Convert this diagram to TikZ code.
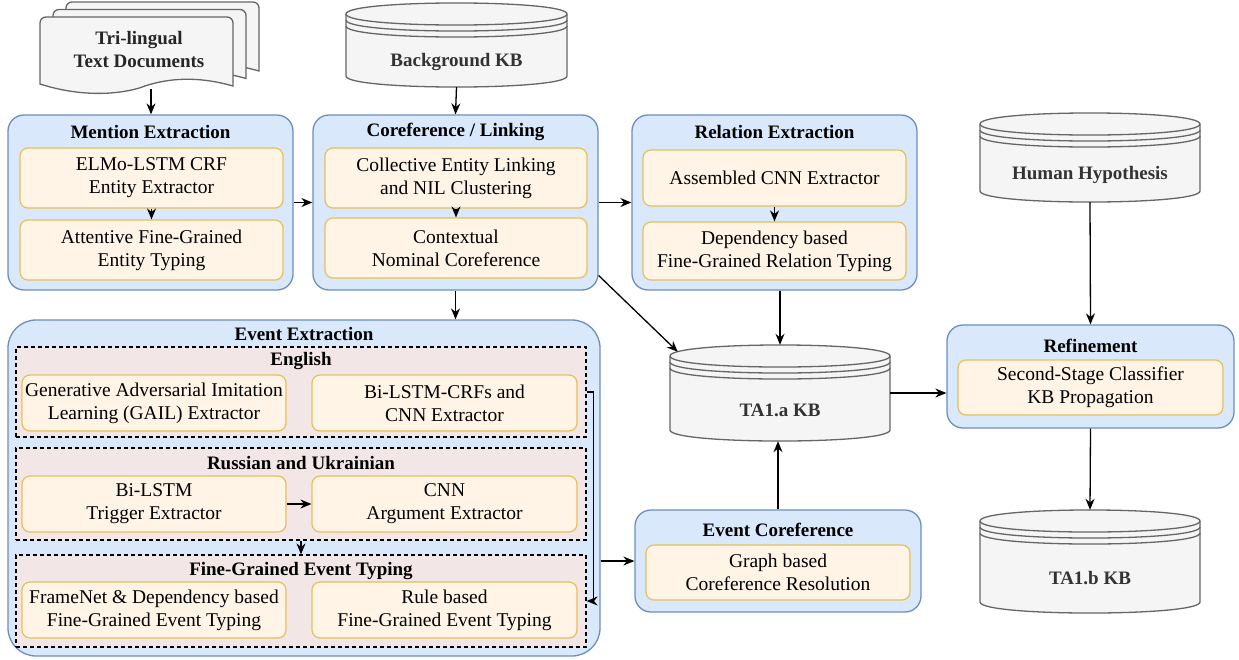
\documentclass[tikz,border=0pt]{standalone}
\usepackage{fontspec}
\setmainfont{Liberation Serif}
\usetikzlibrary{positioning,arrows.meta,calc}

\definecolor{stagefill}{HTML}{DAE8FC}
\definecolor{stageline}{HTML}{6C8EBF}
\definecolor{modulefill}{HTML}{FFF4E6}
\definecolor{moduleline}{HTML}{E6C05A}
\definecolor{groupfill}{HTML}{F2E6E6}
\definecolor{storefill}{HTML}{F5F5F5}
\definecolor{storeline}{HTML}{666666}
\definecolor{storeink}{HTML}{333333}

\newcommand{\bodyfont}{\fontsize{19.5}{23}\selectfont}
\newcommand{\headfont}{\fontsize{19}{23}\selectfont\bfseries}

\tikzset{
  stage/.style={draw=stageline, fill=stagefill, line width=1.3pt, rounded corners=16pt, inner sep=0pt},
  module/.style={draw=moduleline, fill=modulefill, line width=1.2pt, rounded corners=8pt,
    align=center, inner sep=0pt, font=\bodyfont},
  group/.style={draw=black, fill=groupfill, dash pattern={on 4pt off 3pt}, line width=1.2pt, inner sep=0pt},
  heading/.style={font=\headfont, inner sep=0pt},
  store/.style={draw=storeline, fill=storefill, line width=1.3pt},
  storetext/.style={font=\headfont, text=storeink, inner sep=0pt, align=center},
  docsheet/.style={draw=storeline, fill=storefill, line width=1.3pt},
  flow/.style={-{Stealth[length=11pt,width=9pt]}, line width=1.3pt},
}

% database shape: name, left, top, right, bottom, text
\newcommand{\kbstore}[6]{%
  \draw[store] (#2,#3+11) -- (#2,#5-11) .. controls (#2,#5+3.7) and (#4,#5+3.7) .. (#4,#5-11)
    -- (#4,#3+11) .. controls (#4,#3-3.7) and (#2,#3-3.7) .. (#2,#3+11) -- cycle;
  \foreach \d in {11,17,23}
    \draw[storeline, line width=1.3pt] (#2,#3+\d) .. controls (#2,#3+\d+14.7) and (#4,#3+\d+14.7) .. (#4,#3+\d);
  \node[inner sep=0pt, minimum width={#4-#2}, minimum height={#5-#3}] (#1) at ({(#2+#4)/2},{(#3+#5)/2}) {};
  \node[storetext] (#1-text) at ({(#2+#4)/2},{(#3+34+#5)/2}) {#6};
}

\begin{document}
\begin{tikzpicture}[x=1pt, y=-1pt]
  \useasboundingbox (0,0) rectangle (1239,659);

  % input documents
  \foreach \s in {2,1,0} {
    \begin{scope}[shift={(13*\s,-7.5*\s)}]
      \draw[docsheet] (40,84) [rounded corners=6pt] -- (40,17) -- (233,17) [sharp corners] -- (233,86)
        .. controls (205,78) and (175,76) .. (145,86) .. controls (130,92) and (90,100) .. (40,84) -- cycle;
    \end{scope}
  }
  \node[storetext, text=black!85] (docs) at (139,50) {Tri-lingual\\Text Documents};
  \coordinate (docbottom) at (151,89);

  % knowledge bases
  \kbstore{bgkb}{346}{3}{567}{87}{Background KB}
  \kbstore{human}{980}{113}{1200}{202}{Human Hypothesis}
  \kbstore{taa}{670}{345}{890}{441}{TA1.a KB}
  \kbstore{tab}{980}{510}{1200}{613}{TA1.b KB}

  % stages
  \node[stage, minimum width=285, minimum height=175] (mention) at (150.5,202.5) {};
  \node[stage, minimum width=285, minimum height=175] (coref) at (455.5,202.5) {};
  \node[stage, minimum width=285, minimum height=175] (relation) at (774.5,202.5) {};
  \node[stage, minimum width=592, minimum height=336, rounded corners=28pt] (event) at (304,488) {};
  \node[stage, minimum width=286, minimum height=102] (evcoref) at (778,561) {};
  \node[stage, minimum width=287, minimum height=103] (refine) at (1090.5,376.5) {};

  \node[heading] at (150.5,132) {Mention Extraction};
  \node[heading] at (455.5,132) {Coreference / Linking};
  \node[heading] at (774.5,132) {Relation Extraction};
  \node[heading] at (304,334) {Event Extraction};
  \node[heading] at (778,530) {Event Coreference};
  \node[heading] at (1090.5,346) {Refinement};

  % language groups
  \node[group, minimum width=570, minimum height=90] (english) at (301,392) {};
  \node[group, minimum width=570, minimum height=92] (russian) at (301,494) {};
  \node[group, minimum width=570, minimum height=92] (fine) at (301,601) {};
  \node[heading] at (301,361) {English};
  \node[heading] at (301,463) {Russian and Ukrainian};
  \node[heading] at (301,571) {Fine-Grained Event Typing};

  % modules
  \node[module, minimum width=263, minimum height=60] (elmo) at (151.5,178) {ELMo-LSTM CRF\\Entity Extractor};
  \node[module, minimum width=263, minimum height=60] (typing) at (151.5,250) {Attentive Fine-Grained\\Entity Typing};
  \node[module, minimum width=262, minimum height=60] (linking) at (456,178) {Collective Entity Linking\\and NIL Clustering};
  \node[module, minimum width=262, minimum height=60] (nominal) at (456,248) {Contextual\\Nominal Coreference};
  \node[module, minimum width=263, minimum height=56] (cnnrel) at (774.5,178) {Assembled CNN Extractor};
  \node[module, minimum width=263, minimum height=58] (deprel) at (774.5,251) {Dependency based\\Fine-Grained Relation Typing};
  \node[module, minimum width=264, minimum height=56] (gail) at (154,403) {Generative Adversarial Imitation\\Learning (GAIL) Extractor};
  \node[module, minimum width=265, minimum height=56] (bilstmcrf) at (444.5,403) {Bi-LSTM-CRFs and\\CNN Extractor};
  \node[module, minimum width=264, minimum height=56] (trigger) at (154,504) {Bi-LSTM\\Trigger Extractor};
  \node[module, minimum width=265, minimum height=56] (argument) at (444.5,504) {CNN\\Argument Extractor};
  \node[module, minimum width=264, minimum height=56] (framenet) at (154,610) {FrameNet \& Dependency based\\Fine-Grained Event Typing};
  \node[module, minimum width=265, minimum height=56] (rulebased) at (444.5,610) {Rule based\\Fine-Grained Event Typing};
  \node[module, minimum width=264, minimum height=55] (graphcoref) at (778,572.5) {Graph based\\Coreference Resolution};
  \node[module, minimum width=265, minimum height=55] (classifier) at (1090.5,387.5) {Second-Stage Classifier\\KB Propagation};

  % connectors
  \draw[flow] (docbottom) -- (docbottom |- mention.north);
  \draw[flow] (bgkb.south) -- (coref.north);
  \draw[flow] (elmo) -- (typing);
  \draw[flow] (linking) -- (nominal);
  \draw[flow] (cnnrel) -- (deprel);
  \draw[flow] (mention.east) -- (coref.west);
  \draw[flow] (coref.east) -- (relation.west);
  \draw[flow] (coref.south) -- (coref.south |- event.north);
  \draw[flow] ([yshift=-73pt]coref.east) -- ([xshift=8pt,yshift=-7pt]taa.north west);
  \draw[flow] (taa.north |- relation.south) -- (taa.north);
  \draw[flow] (evcoref.north) -- (evcoref.north |- taa.south);
  \draw[flow] (taa.east) -- (taa.east -| refine.west);
  \draw[flow] (human.south) -- (refine.north);
  \draw[flow] (refine.south) -- (tab.north);
  \draw[flow] (trigger) -- (argument);
  \draw[flow] (russian.south) -- (fine.north);
  \draw[flow] (english.east) -- ++(7,0) |- (fine.east);
  \draw[flow] (evcoref.west -| event.east) -- (evcoref.west);
\end{tikzpicture}
\end{document}
